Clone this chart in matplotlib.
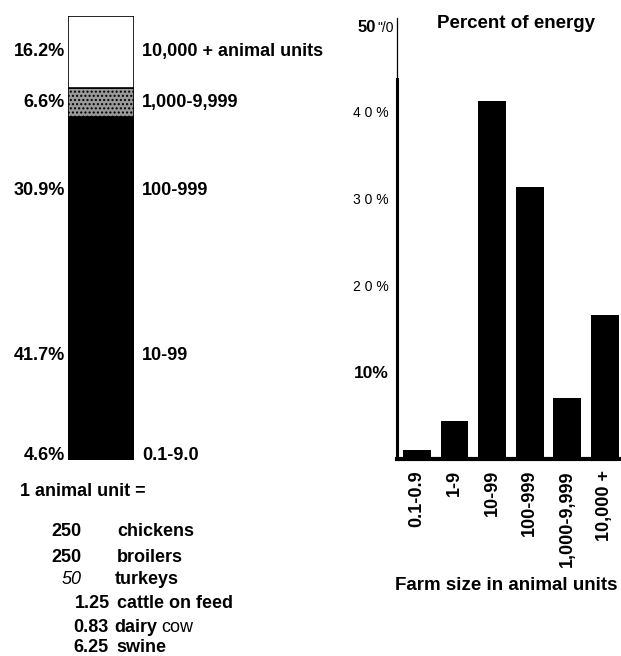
import numpy as np
import matplotlib.pyplot as plt
import matplotlib.transforms as mtransforms

plt.rcParams['font.family'] = ['Liberation Sans', 'DejaVu Sans']

# left stacked bar: share of farms (bottom -> top)
size_pct = [4.6, 41.7, 30.9, 6.6, 16.2]
size_pct_labels = ['4.6%', '41.7%', '30.9%', '6.6%', '16.2%']
size_names = ['0.1-9.0', '10-99', '100-999', '1,000-9,999', '10,000 + animal units']
size_colors = ['black', 'black', 'black', '#9a9a9a', 'white']
label_y = [1.1, 23.6, 60.8, 80.6, 91.9]

# right bar chart: percent of energy
farm_sizes = ['0.1-0.9', '1-9', '10-99', '100-999', '1,000-9,999', '10,000 +']
energy_pct = [1.0, 4.4, 41.3, 31.3, 7.0, 16.6]

# animal unit equivalents
au_num = ['250', '250', '50', '1.25', '0.83', '6.25']
au_kind = ['chickens', 'broilers', 'turkeys', 'cattle on feed', 'dairy', 'swine']

W, H = 621, 656
fig = plt.figure(figsize=(W / 100, H / 100), dpi=100)


def px_ax(x0, y0, x1, y1):
    return fig.add_axes([x0 / W, 1 - y1 / H, (x1 - x0) / W, (y1 - y0) / H])


# ---- left stacked bar ----
ax1 = px_ax(68, 16, 134, 460)
bottom = 0
for v, c in zip(size_pct, size_colors):
    hatch = '....' if c == '#9a9a9a' else None
    ax1.bar(0, v, width=1, bottom=bottom, color=c, edgecolor='black',
            linewidth=1.2, hatch=hatch)
    bottom += v
ax1.set_xlim(-0.5, 0.5)
ax1.set_ylim(0, 100)
ax1.axis('off')

trans = mtransforms.blended_transform_factory(ax1.transAxes, ax1.transData)
for y, p, n in zip(label_y, size_pct_labels, size_names):
    ax1.text(-0.05, y, p, transform=trans, ha='right', va='center',
             fontsize=13, fontweight='bold')
    ax1.text(1.12, y, n, transform=trans, ha='left', va='center',
             fontsize=13, fontweight='bold')

# animal unit list
fig.text(20 / W, 1 - 492 / H, '1 animal unit =', fontsize=13, fontweight='bold',
         va='center')
num_x = [82, 82, 82, 75, 73, 73]
num_ha = ['right', 'right', 'right', 'left', 'left', 'left']
kind_x = [117, 117, 115, 117, 114, 116]
rows_y = [532, 557, 579, 604, 627, 648]
for i, (n, k) in enumerate(zip(au_num, au_kind)):
    y = 1 - rows_y[i] / H
    if n == '50':
        fig.text(num_x[i] / W, y, n, ha=num_ha[i], va='center', fontsize=13,
                 style='italic')
    else:
        fig.text(num_x[i] / W, y, n, ha=num_ha[i], va='center', fontsize=13,
                 fontweight='bold')
    fig.text(kind_x[i] / W, y, k, ha='left', va='center', fontsize=13,
             fontweight='bold')
    if k == 'dairy':
        fig.text(161 / W, y, 'cow', ha='left', va='center', fontsize=13)

# ---- right bar chart ----
ax2 = px_ax(397, 25, 621, 459)
xs = np.arange(len(farm_sizes))
ax2.bar(xs, energy_pct, width=0.74, color='black')
ax2.set_xlim(-0.53, 5.43)
ax2.set_ylim(0, 50)
for s in ['top', 'right']:
    ax2.spines[s].set_visible(False)
ax2.spines['bottom'].set_linewidth(3)
ax2.spines['left'].set_linewidth(2.2)
ax2.spines['left'].set_bounds(0, 43.8)
ax2.axvline(-0.53, ymin=43.8 / 50, ymax=1.016, color='black', linewidth=0.9,
            clip_on=False)
ax2.set_xticks(xs)
ax2.set_xticklabels(farm_sizes, rotation=90, fontsize=13, fontweight='bold',
                    va='top')
ax2.set_yticks([10, 20, 30, 40])
ax2.set_yticklabels(['10%', '2 0 %', '3 0 %', '4 0 %'], fontsize=10)
ax2.get_yticklabels()[0].set_fontweight('bold')
ax2.get_yticklabels()[0].set_fontsize(12.5)
ax2.tick_params(length=0, pad=6)
ax2.tick_params(axis='x', pad=8)
ax2.text(-0.6, 49.7, '"/0', ha='right', va='center', fontsize=10)
ax2.text(-1.08, 49.7, '50', ha='right', va='center', fontsize=12,
         fontweight='bold')
fig.text(516 / W, 1 - 23 / H, 'Percent of energy', ha='center', va='center',
         fontsize=13.5, fontweight='bold')
fig.text(506 / W, 1 - 586 / H, 'Farm size in animal units', ha='center',
         va='center', fontsize=13.5, fontweight='bold')

fig.savefig('out.png', dpi=100)
